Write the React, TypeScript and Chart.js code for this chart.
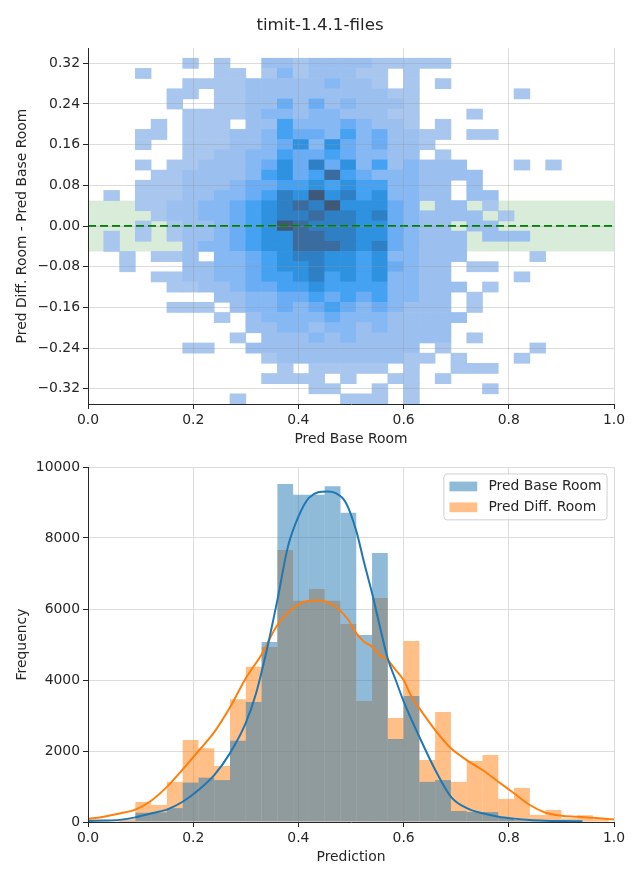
import React, { useEffect, useRef } from 'react';
import { Chart, registerables } from 'chart.js';

Chart.register(...registerables);

// ---------------- text ----------------
const FIG_TITLE = 'timit-1.4.1-files';
const HEAT_X_LABEL = 'Pred Base Room';
const HEAT_Y_LABEL = 'Pred Diff. Room - Pred Base Room';
const HIST_X_LABEL = 'Prediction';
const HIST_Y_LABEL = 'Frequency';
const SERIES_BASE = 'Pred Base Room';
const SERIES_DIFF = 'Pred Diff. Room';

// ---------------- top: 2D histogram ----------------
// columns: Pred Base Room bins of 0.03 starting at 0.03; rows: difference bins of 0.02 from 0.33 downward
const heatXStart = 0.03;
const heatXBin = 0.03;
const heatYTop = 0.33;
const heatYBin = 0.02;
// intensity level per cell ('.' = empty, 1 = lowest count ... 9 = highest count)
const heatRows = [
  '.....1.1..|2212222111|11.......',
  '..1....11.|13122211.1|.........',
  '.....11112|22223221.1|.1.......',
  '....11.112|2222222211|......1..',
  '....1..112|2424232221|.........',
  '.....11112|3323322211|...1.....',
  '...1.111.2|2533343221|.1.......',
  '..11.11122|3544353422|11.11....',
  '..1..11122|3463643422|1........',
  '.....11223|3544543322|.1.......',
  '..1.112223|4647463523|222...1.1',
  '...1122223|5645854333|2222.....',
  '..11122234|4556565533|22.2.....',
  '1.11122334|5769675633|22.22....',
  '..11223345|6787966643|.22.1....',
  '...1223345|6778776743|2222.1...',
  '..1.122345|6987776643|22.22....',
  '1.1.122345|6688776643|222.222..',
  '1....23345|6688876743|222......',
  '.1.112.334|5677665633|222....1.',
  '.1...22334|5667665643|22.11....',
  '...1122334|5567565633|22....1..',
  '....112234|4556555533|222.1....',
  '.......223|3445454533|22.1.....',
  '....111.23|3434543432|22.1.....',
  '.......1.2|3333433322|222......',
  '.........2|2332332322|22.......',
  '........1.|2223232222|22.1.....',
  '.....11..2|2222222222|.1.....1.',
  '..........|1222222221|1.1...1..',
  '..........|.1.11111.1|..111....',
  '..........|1111.1..11|.1.......',
  '..........|...11..1.1|....1....',
  '........1.|.....111.1|.........',
];
const bandLow = -0.05;
const bandHigh = 0.05;
const refLineY = 0;
const heatYMin = -0.35;
const heatYMax = 0.35;
const heatYStep = 0.08;

// ---------------- bottom: 1D histograms + KDE ----------------
const histStart = 0;
const histBin = 0.03;
const baseRoomCounts = [
  0, 0, 30, 260, 270, 390, 1110, 1250, 1180, 2290, 3380, 5070, 9520, 9220, 9220, 9460, 8710,
  5270, 7580, 2340, 3550, 1130, 1180, 310, 280, 280, 110, 50, 30, 20, 10, 10, 0, 0,
];
const diffRoomCounts = [
  60, 60, 80, 563, 480, 1130, 2310, 2080, 1580, 3460, 4370, 4930, 7660, 6230, 6560, 6230, 5580,
  3410, 6310, 2930, 5100, 1750, 3100, 1130, 1720, 1890, 650, 960, 200, 340, 100, 190, 80, 0,
];
const baseKdeX = [
  0.0, 0.03, 0.06, 0.09, 0.12, 0.15, 0.18, 0.21, 0.24, 0.27, 0.3, 0.32, 0.34, 0.36, 0.38, 0.4,
  0.42, 0.455, 0.47, 0.49, 0.51, 0.525, 0.54, 0.555, 0.57, 0.585, 0.6, 0.63, 0.66, 0.69, 0.72,
  0.75, 0.78, 0.81, 0.84, 0.87, 0.9, 0.94,
];
const baseKdeY = [
  30, 40, 60, 130, 240, 350, 570, 900, 1320, 1940, 2790, 3650, 4850, 6250, 7750, 8600, 9130,
  9310, 9270, 9000, 8200, 7300, 6450, 5500, 4600, 4000, 3400, 2400, 1470, 710, 390, 245, 150,
  95, 56, 37, 28, 20,
];
const diffKdeX = [
  0.0, 0.03, 0.06, 0.09, 0.12, 0.15, 0.18, 0.21, 0.24, 0.27, 0.3, 0.33, 0.36, 0.39, 0.42, 0.44,
  0.47, 0.495, 0.51, 0.525, 0.54, 0.555, 0.57, 0.585, 0.6, 0.615, 0.63, 0.66, 0.69, 0.72, 0.75,
  0.78, 0.81, 0.84, 0.87, 0.9, 0.93, 0.96, 1.0,
];
const diffKdeY = [
  90, 150, 240, 350, 600, 990, 1480, 2000, 2530, 3230, 4050, 4720, 5550, 6020, 6230, 6240, 6070,
  5690, 5320, 5080, 4940, 4700, 4560, 4280, 4000, 3530, 3200, 2590, 2075, 1745, 1465, 1135, 808,
  479, 262, 177, 150, 121, 70,
];
const histYMax = 10000;
const histYStep = 2000;
const xStep = 0.2;

// ---------------- styles ----------------
const FONT_FAMILY = "'DejaVu Sans', sans-serif";
const FS = 13.9;
const TEXT = '#262626';
const heatLevelColors = ['', '#a9c7ee', '#9bc0f0', '#86b8f3', '#6badf5', '#45a2f2', '#2f92e0', '#2f7fc4', '#3a6c9f', '#3f5878'];
const BLUE = '#1f77b4';
const ORANGE = '#ff7f0e';
const BLUE_A = 'rgba(31,119,180,0.5)';
const ORANGE_A = 'rgba(255,127,14,0.5)';

Chart.defaults.font.family = FONT_FAMILY;
Chart.defaults.color = TEXT;

const font = { family: FONT_FAMILY, size: FS };

function buildHeat() {
  const cells: any[] = [];
  const colors: string[] = [];
  heatRows.forEach((row, r) => {
    const s = row.replace(/\|/g, '');
    const hi = heatYTop - r * heatYBin;
    const lo = hi - heatYBin;
    for (let c = 0; c < s.length; c++) {
      const ch = s[c];
      if (ch === '.') continue;
      cells.push({ x: heatXStart + (c + 0.5) * heatXBin, y: [lo, hi] });
      colors.push(heatLevelColors[Number(ch)]);
    }
  });
  return { cells, colors };
}

function histPoints(counts: number[]) {
  const pts: any[] = [];
  counts.forEach((v, k) => {
    if (v > 0) pts.push({ x: histStart + (k + 0.5) * histBin, y: v });
  });
  return pts;
}

function zip(xs: number[], ys: number[]) {
  return xs.map((x, i) => ({ x, y: ys[i] }));
}

const bandPlugin = {
  id: 'band',
  beforeDatasetsDraw(chart: any) {
    const { ctx, chartArea, scales } = chart;
    const y1 = scales.y.getPixelForValue(bandHigh);
    const y2 = scales.y.getPixelForValue(bandLow);
    ctx.save();
    ctx.fillStyle = 'rgba(0,128,0,0.15)';
    ctx.fillRect(chartArea.left, y1, chartArea.right - chartArea.left, y2 - y1);
    ctx.restore();
  },
};

const boxLegendPlugin = {
  id: 'boxLegend',
  afterDraw(chart: any) {
    const { ctx, chartArea } = chart;
    const items = chart.data.datasets.filter((d: any) => d.type === 'bar');
    ctx.save();
    ctx.font = `${FS}px ${FONT_FAMILY}`;
    const pad = 0.4 * FS;
    const handle = 2 * FS;
    const gap = 0.8 * FS;
    const rowH = FS + 0.5 * FS;
    let maxW = 0;
    items.forEach((d: any) => {
      maxW = Math.max(maxW, ctx.measureText(d.label).width);
    });
    const w = 2 * pad + handle + gap + maxW;
    const h = 2 * pad + items.length * FS + (items.length - 1) * 0.5 * FS;
    const right = chartArea.right - 0.5 * FS;
    const top = chartArea.top + 0.5 * FS;
    const left = right - w;
    ctx.beginPath();
    ctx.roundRect(left, top, w, h, 3);
    ctx.fillStyle = 'rgba(255,255,255,0.8)';
    ctx.fill();
    ctx.lineWidth = 1;
    ctx.strokeStyle = '#d0d0d0';
    ctx.stroke();
    items.forEach((d: any, i: number) => {
      const cy = top + pad + FS / 2 + i * rowH;
      ctx.fillStyle = d.backgroundColor;
      ctx.fillRect(left + pad, cy - 0.35 * FS, handle, 0.7 * FS);
      ctx.fillStyle = TEXT;
      ctx.textBaseline = 'middle';
      ctx.textAlign = 'left';
      ctx.fillText(d.label, left + pad + handle + gap, cy);
    });
    ctx.restore();
  },
};

function topConfig(): any {
  const { cells, colors } = buildHeat();
  return {
    type: 'bar',
    data: {
      datasets: [
        {
          type: 'line',
          data: [
            { x: 0, y: refLineY },
            { x: 1, y: refLineY },
          ],
          borderColor: '#008000',
          borderWidth: 2,
          borderDash: [8, 4],
          pointRadius: 0,
          order: 0,
        },
        {
          type: 'bar',
          data: cells,
          backgroundColor: colors,
          borderWidth: 0,
          barPercentage: 1,
          categoryPercentage: 1,
          grouped: false,
          order: 1,
        },
      ],
    },
    options: {
      responsive: false,
      animation: false,
      events: [],
      layout: { padding: { left: 0, right: 0, top: 0, bottom: 0 } },
      plugins: {
        legend: { display: false },
        tooltip: { enabled: false },
        title: {
          display: true,
          text: FIG_TITLE,
          color: TEXT,
          font: { family: FONT_FAMILY, size: 16.7, weight: 'normal' },
          padding: { top: 16, bottom: 12 },
        },
      },
      scales: {
        x: {
          type: 'linear',
          min: 0,
          max: 1,
          offset: false,
          ticks: {
            stepSize: xStep,
            font,
            color: TEXT,
            padding: 3,
            maxRotation: 0,
            callback: (v: any) => Number(v).toFixed(1),
          },
          grid: { color: 'rgba(150,150,150,0.33)', tickColor: TEXT, tickLength: 5, offset: false, z: 1 },
          border: { color: TEXT, width: 1, z: 2 },
          title: { display: true, text: HEAT_X_LABEL, font, color: TEXT, padding: { top: 0, bottom: 2.7 } },
          afterFit: (s: any) => {
            s.height = 46;
          },
        },
        y: {
          type: 'linear',
          min: heatYMin,
          max: heatYMax,
          ticks: {
            stepSize: heatYStep,
            includeBounds: false,
            font,
            color: TEXT,
            padding: 3,
            callback: (v: any) => {
              const n = Number(v);
              const s = Math.abs(n) < 1e-9 ? '0.00' : n.toFixed(2);
              return s.replace('-', '\u2212');
            },
          },
          grid: { color: 'rgba(150,150,150,0.33)', tickColor: TEXT, tickLength: 5, z: 1 },
          border: { color: TEXT, width: 1, z: 2 },
          title: { display: true, text: HEAT_Y_LABEL, font, color: TEXT, padding: { top: 13.7, bottom: 0 } },
          afterFit: (s: any) => {
            s.width = 88;
          },
        },
        spacer: {
          type: 'linear',
          position: 'right',
          display: true,
          grid: { display: false, drawTicks: false },
          border: { display: false },
          ticks: { display: false },
          afterFit: (s: any) => {
            s.width = 26;
          },
        },
      },
    },
    plugins: [bandPlugin],
  };
}

function bottomConfig(): any {
  return {
    type: 'bar',
    data: {
      datasets: [
        {
          type: 'line',
          data: zip(baseKdeX, baseKdeY),
          borderColor: BLUE,
          borderWidth: 2,
          pointRadius: 0,
          cubicInterpolationMode: 'monotone',
          order: 0,
        },
        {
          type: 'line',
          data: zip(diffKdeX, diffKdeY),
          borderColor: ORANGE,
          borderWidth: 2,
          pointRadius: 0,
          cubicInterpolationMode: 'monotone',
          order: 1,
        },
        {
          type: 'bar',
          label: SERIES_BASE,
          data: histPoints(baseRoomCounts),
          backgroundColor: BLUE_A,
          borderWidth: 0,
          barPercentage: 1,
          categoryPercentage: 1,
          grouped: false,
          inflateAmount: 0,
          order: 2,
        },
        {
          type: 'bar',
          label: SERIES_DIFF,
          data: histPoints(diffRoomCounts),
          backgroundColor: ORANGE_A,
          borderWidth: 0,
          barPercentage: 1,
          categoryPercentage: 1,
          grouped: false,
          inflateAmount: 0,
          order: 3,
        },
      ],
    },
    options: {
      responsive: false,
      animation: false,
      events: [],
      layout: { padding: { left: 0, right: 26, top: 17, bottom: 0 } },
      plugins: {
        legend: { display: false },
        tooltip: { enabled: false },
      },
      scales: {
        x: {
          type: 'linear',
          min: 0,
          max: 1,
          offset: false,
          ticks: {
            stepSize: xStep,
            font,
            color: TEXT,
            padding: 3,
            maxRotation: 0,
            callback: (v: any) => Number(v).toFixed(1),
          },
          grid: { color: '#dcdcdc', tickColor: TEXT, tickLength: 5, offset: false },
          border: { color: TEXT, width: 1, z: 1 },
          title: { display: true, text: HIST_X_LABEL, font, color: TEXT, padding: { top: 0, bottom: 14.7 } },
          afterFit: (s: any) => {
            s.height = 58;
          },
        },
        y: {
          type: 'linear',
          min: 0,
          max: histYMax,
          ticks: {
            stepSize: histYStep,
            font,
            color: TEXT,
            padding: 3,
            callback: (v: any) => String(Math.round(Number(v))),
          },
          grid: { color: '#dcdcdc', tickColor: TEXT, tickLength: 5 },
          border: { color: TEXT, width: 1, z: 1 },
          title: { display: true, text: HIST_Y_LABEL, font, color: TEXT, padding: { top: 13.7, bottom: 0 } },
          afterFit: (s: any) => {
            s.width = 88;
          },
        },
      },
    },
    plugins: [boxLegendPlugin],
  };
}

export default function App() {
  const topRef = useRef<HTMLCanvasElement>(null);
  const botRef = useRef<HTMLCanvasElement>(null);
  useEffect(() => {
    const c1 = new Chart(topRef.current as HTMLCanvasElement, topConfig());
    const c2 = new Chart(botRef.current as HTMLCanvasElement, bottomConfig());
    return () => {
      c1.destroy();
      c2.destroy();
    };
  }, []);
  return (
    <div style={{ position: 'absolute', left: 0, top: 0, width: 640, height: 880, background: '#ffffff' }}>
      <canvas ref={topRef} width={640} height={450} style={{ display: 'block', width: 640, height: 450 }} />
      <canvas ref={botRef} width={640} height={430} style={{ display: 'block', width: 640, height: 430 }} />
    </div>
  );
}
